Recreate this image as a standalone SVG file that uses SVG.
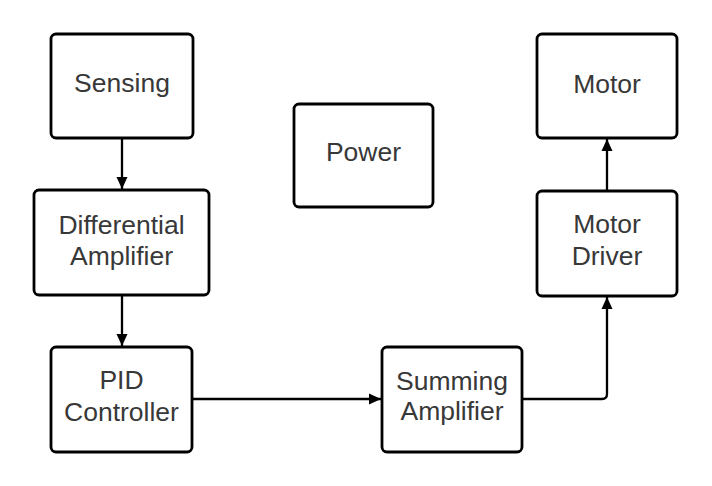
<svg xmlns="http://www.w3.org/2000/svg" width="712" height="486" viewBox="0 0 712 486">
<style>
.box{fill:#fff;stroke:#000;stroke-width:2.8}
.lbl{font-family:"Liberation Sans",Arial,sans-serif;font-size:26.5px;fill:#383838;text-anchor:middle}
.conn{fill:none;stroke:#000;stroke-width:2.3}
</style>
<defs>
<marker id="arr" viewBox="0 0 12 12" refX="12" refY="6" markerWidth="12" markerHeight="12" markerUnits="userSpaceOnUse" orient="auto">
<path d="M0,0.5 L12,6 L0,11.5 Z" fill="#000"/>
</marker>
</defs>
<rect width="712" height="486" fill="#fff"/>
<g id="connectors">
<path class="conn" d="M122,139 V189" marker-end="url(#arr)"/>
<path class="conn" d="M122,296 V346" marker-end="url(#arr)"/>
<path class="conn" d="M193,399 H381" marker-end="url(#arr)"/>
<path class="conn" d="M523,399 H602 Q607,399 607,394 V297" marker-end="url(#arr)"/>
<path class="conn" d="M607,191 V139" marker-end="url(#arr)"/>
</g>
<g id="sensing">
<rect class="box" x="51" y="34" width="142" height="104" rx="5"/>
<text class="lbl" x="122" y="92">Sensing</text>
</g>
<g id="diff-amp">
<rect class="box" x="34" y="190" width="175" height="105" rx="5"/>
<text class="lbl" x="121.5" y="234">Differential</text>
<text class="lbl" x="121.5" y="265">Amplifier</text>
</g>
<g id="pid">
<rect class="box" x="51" y="347" width="141" height="105" rx="5"/>
<text class="lbl" x="121.5" y="389">PID</text>
<text class="lbl" x="121.5" y="421">Controller</text>
</g>
<g id="power">
<rect class="box" x="294" y="104" width="139" height="103" rx="5"/>
<text class="lbl" x="363.5" y="161">Power</text>
</g>
<g id="summing">
<rect class="box" x="382" y="347" width="140" height="105" rx="5"/>
<text class="lbl" x="452" y="390">Summing</text>
<text class="lbl" x="452" y="420">Amplifier</text>
</g>
<g id="motor-driver">
<rect class="box" x="537" y="191" width="140" height="105" rx="5"/>
<text class="lbl" x="607" y="233">Motor</text>
<text class="lbl" x="607" y="265">Driver</text>
</g>
<g id="motor">
<rect class="box" x="537" y="34" width="140" height="104" rx="5"/>
<text class="lbl" x="607" y="93">Motor</text>
</g>
</svg>
